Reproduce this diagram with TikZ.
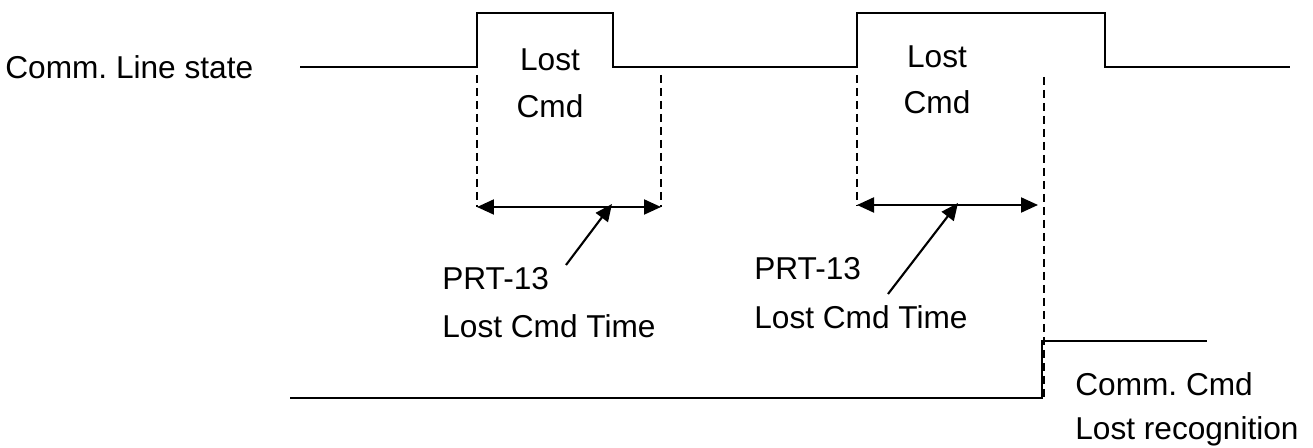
\documentclass[tikz,border=0pt]{standalone}
\usepackage{fontspec}
\setmainfont{Liberation Sans}
\usetikzlibrary{arrows.meta}
\usetikzlibrary{positioning}
\frenchspacing

\begin{document}
\begin{tikzpicture}[x=0.02cm, y=-0.02cm,
				signal/.style={line width=1.2pt},
				guide/.style={line width=0.8pt, dash pattern=on 0.16cm off 0.1cm},
				span/.style={line width=1.2pt, {Triangle[length=0.34cm,width=0.3cm]}-{Triangle[length=0.34cm,width=0.3cm]}},
				pointer/.style={line width=1.2pt, -{Triangle[length=0.34cm,width=0.3cm]}},
				label/.style={anchor=base west, inner sep=0pt, font=\fontsize{18}{21}\selectfont},
				]
				\useasboundingbox (0,0) rectangle (1313,448);

				% Nodes
				\coordinate (s0) at (300,67);
				\coordinate (r1) at (477,67);
				\coordinate (f1) at (613,67);
				\coordinate (r2) at (857,67);
				\coordinate (f2) at (1105,67);
				\coordinate (s1) at (1290,67);
				\coordinate (b0) at (290,398);
				\coordinate (b1) at (1042,398);
				\coordinate (b2) at (1207,341);

				% Dimension ends
				\coordinate (t1a) at (477,207);
				\coordinate (t1b) at (661,207);
				\coordinate (t2a) at (857,205);
				\coordinate (t2b) at (1038,205);
				\coordinate (p1) at (612,204);
				\coordinate (p2) at (958,203);

				% Line state
				\draw[signal] (s0) -- (r1) -- ++(0,-54) -| (f1) -- (r2) -- ++(0,-54) -| (f2) -- (s1);
				\draw[signal] (b0) -- (b1) |- (b2);

				% Guides
				\draw[guide] (477,75) -- (t1a);
				\draw[guide] (661,75) -- (t1b);
				\draw[guide] (857,75) -- (t2a);
				\draw[guide] (1044,77) -- (1044,398);

				% Timing spans
				\draw[span] (t1a) -- (t1b);
				\draw[span] (t2a) -- (t2b);

				% Labels
				\node[label] (line-state) at (5,79) {Comm. Line state};
				\node[label, anchor=base] (lost1) at (550,71) {Lost};
				\node[label, anchor=base] (cmd1) at (550,118) {Cmd};
				\node[label, anchor=base] (lost2) at (937,68) {Lost};
				\node[label, anchor=base] (cmd2) at (937,114) {Cmd};
				\node[label] (prt1) at (442,290) {PRT-13};
				\node[label] (time1) at (442,338) {Lost Cmd Time};
				\node[label] (prt2) at (754,280) {PRT-13};
				\node[label] (time2) at (754,329) {Lost Cmd Time};
				\node[label] (recog1) at (1075,396) {Comm. Cmd};
				\node[label] (recog2) at (1075,440) {Lost recognition};

				% Pointers
				\coordinate (q1) at (566,265);
				\coordinate (q2) at (888,294);
				\draw[pointer] (q1) -- (p1);
				\draw[pointer] (q2) -- (p2);
			\end{tikzpicture}
\end{document}
